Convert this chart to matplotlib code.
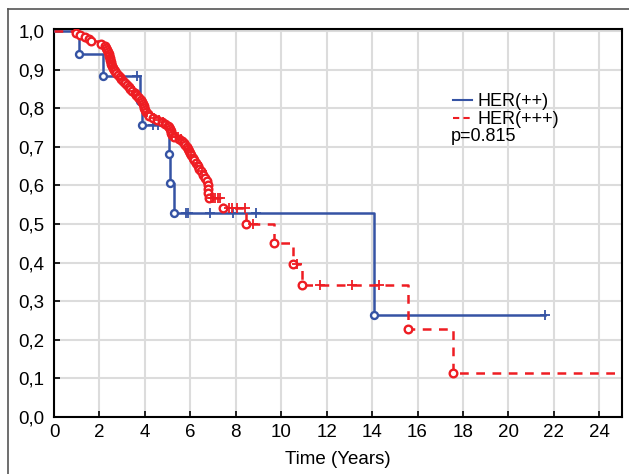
import numpy as np
import matplotlib.pyplot as plt
from matplotlib.lines import Line2D

plt.rcParams['font.family'] = ['Liberation Sans', 'DejaVu Sans']

# HER(++) : event times and survival after each event
her2_times = [1.10, 2.15, 3.80, 3.88, 5.05, 5.12, 5.30, 14.07]
her2_surv = [0.941, 0.882, 0.819, 0.756, 0.680, 0.605, 0.529, 0.265]
her2_cens = [3.65, 4.35, 4.57, 5.80, 5.90, 6.86, 7.87, 8.88, 21.60]
her2_end = 21.60

# HER(+++) : event times and survival after each event
her3_times = [0.97, 1.14, 1.35, 1.54, 1.63, 2.07, 2.24, 2.30, 2.35, 2.38,
              2.40, 2.42, 2.45, 2.48, 2.50, 2.52, 2.55, 2.58, 2.62, 2.68,
              2.75, 2.82, 2.90, 2.97, 3.05, 3.12, 3.20, 3.28, 3.36, 3.45,
              3.55, 3.62, 3.70, 3.76, 3.82, 3.86, 3.90, 3.94, 3.98, 4.02,
              4.06, 4.12, 4.20, 4.35, 4.55, 4.75, 4.90, 5.00, 5.06, 5.10,
              5.14, 5.17, 5.20, 5.30, 5.50, 5.65, 5.72, 5.78, 5.84, 5.88,
              5.92, 5.97, 6.02, 6.10, 6.18, 6.25, 6.32, 6.40, 6.48, 6.56,
              6.64, 6.72, 6.77, 6.78, 6.80, 6.82, 7.43, 8.44, 9.67, 10.50,
              10.90, 15.56, 17.54]
her3_surv = [0.995, 0.990, 0.985, 0.980, 0.975, 0.965, 0.960, 0.955, 0.950, 0.945,
             0.940, 0.935, 0.930, 0.925, 0.920, 0.915, 0.910, 0.905, 0.900, 0.895,
             0.890, 0.885, 0.880, 0.875, 0.870, 0.865, 0.860, 0.855, 0.850, 0.845,
             0.840, 0.835, 0.830, 0.825, 0.820, 0.815, 0.810, 0.805, 0.800, 0.795,
             0.790, 0.785, 0.780, 0.775, 0.770, 0.765, 0.760, 0.755, 0.750, 0.745,
             0.740, 0.735, 0.730, 0.725, 0.720, 0.715, 0.710, 0.705, 0.700, 0.695,
             0.690, 0.685, 0.678, 0.672, 0.665, 0.658, 0.650, 0.643, 0.636, 0.628,
             0.620, 0.610, 0.600, 0.590, 0.580, 0.567, 0.541, 0.500, 0.451, 0.396,
             0.342, 0.228, 0.114]
her3_cens = [2.45, 2.55, 3.00, 3.50, 4.10, 4.40, 4.60, 4.80, 5.20, 5.35,
             5.45, 5.60, 5.90, 6.05, 6.30, 6.50, 6.90, 7.00, 7.10, 7.20,
             7.30, 7.70, 7.85, 8.05, 8.40, 8.75, 10.70, 11.70, 13.10, 14.30]
her3_end = 25.0

p_text = 'p=0.815'
blue = '#3553a4'
red = '#ee1d23'


def step_data(times, surv, end):
    x = np.concatenate([[0.0], times, [end]])
    y = np.concatenate([[1.0], surv, [surv[-1]]])
    return x, y


def surv_at(t, times, surv):
    i = np.searchsorted(times, t, side='right')
    return 1.0 if i == 0 else surv[i - 1]


fig = plt.figure(figsize=(6.29, 4.74), dpi=100)
ax = fig.add_axes([54 / 629, 1 - 417 / 474, (622 - 54) / 629, (417 - 29) / 474])

# HER(++)
x2, y2 = step_data(her2_times, her2_surv, her2_end)
ax.step(x2, y2, where='post', color=blue, lw=1.8, zorder=3)
ax.plot(her2_times, her2_surv, 'o', ms=5, mfc='white', mec=blue, mew=1.7, zorder=4)
ax.plot(her2_cens, [surv_at(t, her2_times, her2_surv) for t in her2_cens], '+',
        color=blue, ms=7, mew=1.3, zorder=4)

# HER(+++)
x3, y3 = step_data(her3_times, her3_surv, her3_end)
ax.step(x3, y3, where='post', color=red, lw=1.8, dashes=(3.5, 3), zorder=3)
ax.plot(her3_times, her3_surv, 'o', ms=5.5, mfc='white', mec=red, mew=1.7, zorder=4)
ax.plot(her3_cens, [surv_at(t, her3_times, her3_surv) for t in her3_cens], '+',
        color=red, ms=7, mew=1.3, zorder=4)

ax.set_xlim(0, 25)
ax.set_ylim(0, 1.005)
ax.set_xticks(np.arange(0, 25, 2))
yt = np.round(np.arange(0, 1.01, 0.1), 1)
ax.set_yticks(yt)
ax.set_yticklabels([f'{v:.1f}'.replace('.', ',') for v in yt])
ax.grid(True, color='#dcdcdc', lw=1.5)
ax.set_axisbelow(True)
ax.tick_params(direction='in', length=4, width=1.2, labelsize=13.5, colors='black', pad=5)
ax.tick_params(axis='y', pad=7)
for s in ax.spines.values():
    s.set_linewidth(1.5)
ax.set_xlabel('Time (Years)', fontsize=13.5, labelpad=7)

handles = [Line2D([], [], color=blue, lw=1.5),
           Line2D([], [], color=red, lw=1.5, dashes=(3, 2))]
ax.legend(handles, ['HER(++)', 'HER(+++)'], loc='upper left',
          bbox_to_anchor=(0.686, 0.858), frameon=False, fontsize=13,
          handlelength=1.05, handletextpad=0.3, labelspacing=0.05, borderpad=0)
ax.text(0.699, 0.724, p_text, transform=ax.transAxes, fontsize=13, va='center')

# outer frame
fig.add_artist(Line2D([8 / 629, 8 / 629], [0, 1 - 9 / 474], color='#555555', lw=1.2,
                      transform=fig.transFigure))
fig.add_artist(Line2D([8 / 629, 1], [1 - 9 / 474, 1 - 9 / 474], color='#555555', lw=1.2,
                      transform=fig.transFigure))

fig.savefig('out.png', dpi=100)
